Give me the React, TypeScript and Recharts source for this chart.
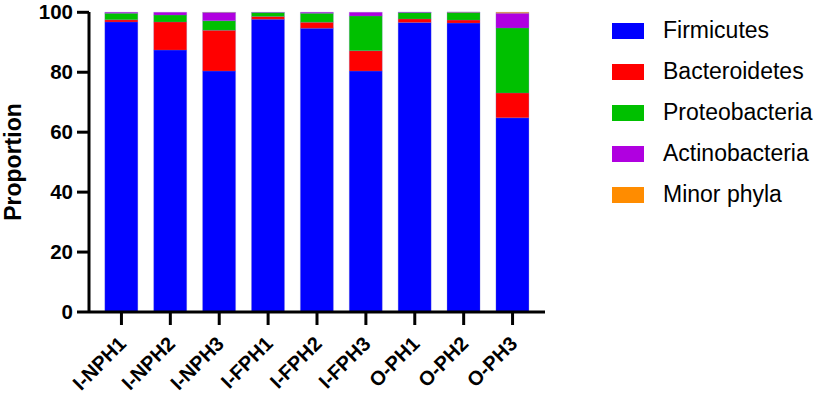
import { BarChart, Bar, XAxis, YAxis, Label } from "recharts";

const samples = ["I-NPH1", "I-NPH2", "I-NPH3", "I-FPH1", "I-FPH2", "I-FPH3", "O-PH1", "O-PH2", "O-PH3"];
const firmicutes = [96.8, 87.4, 80.4, 97.7, 94.7, 80.4, 96.6, 96.4, 64.8];
const bacteroidetes = [0.7, 9.4, 13.6, 0.9, 2.0, 6.8, 1.2, 1.0, 8.3];
const proteobacteria = [2.2, 2.3, 3.2, 1.3, 3.0, 11.6, 2.1, 2.5, 21.7];
const actinobacteria = [0.3, 0.9, 2.7, 0.1, 0.3, 1.2, 0.2, 0.1, 4.9];
const minorPhyla = [0.0, 0.0, 0.1, 0.0, 0.0, 0.0, 0.0, 0.1, 0.3];
const yTicks = [0, 20, 40, 60, 80, 100];

const series = [
  { key: "Firmicutes", color: "#0000ff", values: firmicutes },
  { key: "Bacteroidetes", color: "#ff0000", values: bacteroidetes },
  { key: "Proteobacteria", color: "#00c000", values: proteobacteria },
  { key: "Actinobacteria", color: "#b000e0", values: actinobacteria },
  { key: "Minor phyla", color: "#ff8c00", values: minorPhyla },
];

const data = samples.map((s, i) => {
  const row: { [k: string]: string | number } = { sample: s };
  for (const ser of series) row[ser.key] = ser.values[i];
  return row;
});

const font = "Arial, 'Liberation Sans', sans-serif";

function XTick(props: any) {
  const { x, y, payload } = props;
  const tx = x + 6;
  const ty = y + 18;
  return (
    <text
      x={tx}
      y={ty}
      transform={`rotate(-45, ${tx}, ${ty})`}
      textAnchor="end"
      fontFamily={font}
      fontWeight="bold"
      fontSize={20}
      fill="#000"
    >
      {payload.value}
    </text>
  );
}

function YTick(props: any) {
  const { x, y, payload } = props;
  return (
    <text x={x} y={y + 7} textAnchor="end" fontFamily={font} fontWeight="bold" fontSize={20.5} fill="#000">
      {payload.value}
    </text>
  );
}

function YLabel(props: any) {
  const vb = props.viewBox;
  const cx = vb.x + 21;
  const cy = vb.y + vb.height / 2;
  return (
    <text
      x={cx}
      y={cy}
      transform={`rotate(-90, ${cx}, ${cy})`}
      textAnchor="middle"
      fontFamily={font}
      fontWeight="bold"
      fontSize={23}
      fill="#000"
    >
      Proportion
    </text>
  );
}

export default function App() {
  return (
    <div style={{ position: "absolute", left: 0, top: 0, width: 827, height: 397, background: "#fff" }}>
      <BarChart
        width={827}
        height={397}
        data={data}
        margin={{ top: 12, right: 282, bottom: 0, left: 0 }}
        barCategoryGap="16%"
        style={{ overflow: "visible" }}
      >
        <XAxis
          dataKey="sample"
          height={85}
          interval={0}
          padding={{ left: 8, right: 8 }}
          axisLine={{ stroke: "#000", strokeWidth: 3 }}
          tickLine={{ stroke: "#000", strokeWidth: 3 }}
          tickSize={13}
          tickMargin={2}
          tick={<XTick />}
        />
        <YAxis
          width={89}
          domain={[0, 100]}
          ticks={yTicks}
          interval={0}
          axisLine={{ stroke: "#000", strokeWidth: 3 }}
          tickLine={{ stroke: "#000", strokeWidth: 3 }}
          tickSize={12}
          tickMargin={4}
          tick={<YTick />}
        >
          <Label content={<YLabel />} />
        </YAxis>
        {series.map((s) => (
          <Bar
            key={s.key}
            dataKey={s.key}
            stackId="a"
            fill={s.color}
            stroke="rgba(120,120,200,0.5)"
            strokeWidth={0.5}
            isAnimationActive={false}
          />
        ))}
      </BarChart>
      <div style={{ position: "absolute", left: 612, top: 10, fontFamily: font }}>
        {series.map((s) => (
          <div key={s.key} style={{ display: "flex", alignItems: "center", height: 41 }}>
            <div style={{ width: 32, height: 16, background: s.color, marginRight: 19 }} />
            <span style={{ fontSize: 23, color: "#000" }}>{s.key}</span>
          </div>
        ))}
      </div>
    </div>
  );
}
